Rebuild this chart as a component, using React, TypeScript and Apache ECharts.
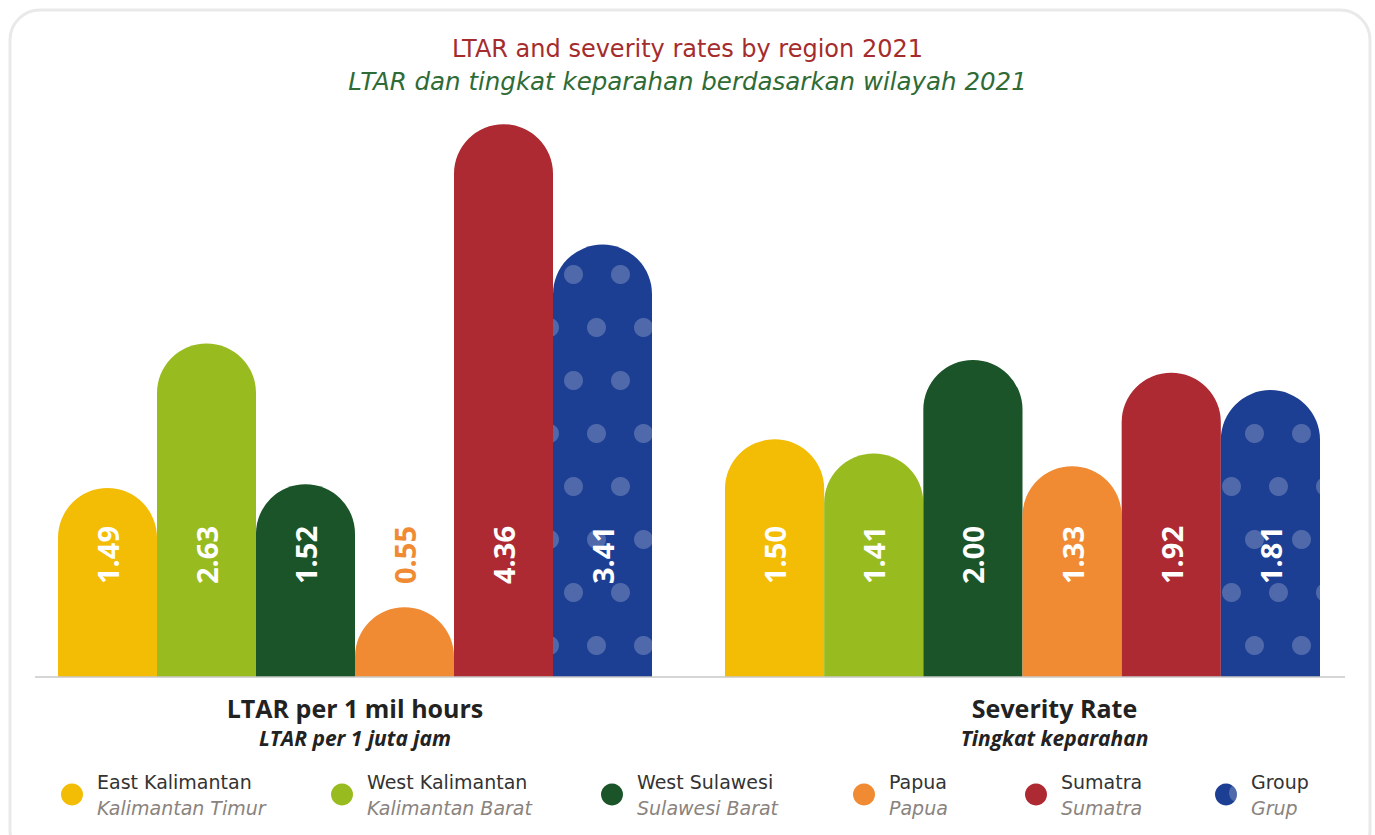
import React, { useEffect, useRef } from "react";
import * as echarts from "echarts";

const regions = ["East Kalimantan", "West Kalimantan", "West Sulawesi", "Papua", "Sumatra", "Group"];
const regionsId = ["Kalimantan Timur", "Kalimantan Barat", "Sulawesi Barat", "Papua", "Sumatra", "Grup"];
const colors = ["#F3BC05", "#98BB1F", "#1A5428", "#F08A33", "#AD2A32", "#1D3F93"];
const ltarValues = [1.49, 2.63, 1.52, 0.55, 4.36, 3.41];
const severityValues = [1.5, 1.41, 2.0, 1.33, 1.92, 1.81];
const legendCenters = [73, 343, 613, 865, 1037, 1227];

const FONT = "'Open Sans', 'Noto Sans', sans-serif";
const WIDE = "'DejaVu Sans', 'Open Sans', sans-serif";

export default function App() {
  const ref = useRef<HTMLDivElement>(null);
  useEffect(() => {
    if (!ref.current) return;
    const chart = echarts.init(ref.current, null, { renderer: "svg" });

    const decal = {
      symbol: "circle",
      symbolSize: 1,
      color: "rgba(255,255,255,0.22)",
      dashArrayX: [[19, 28], [0, 23, 19, 5]],
      dashArrayY: [19, 34],
      rotation: 0,
    };

    const makeSeries = (values: number[], gridIdx: number) =>
      regions.map((name, i) => ({
        name,
        type: "bar",
        xAxisIndex: gridIdx,
        yAxisIndex: gridIdx,
        barWidth: "100%",
        barGap: "-100%",
        data: values.map((v, j) => (j === i ? v : "-")),
        itemStyle: {
          color: colors[i],
          borderRadius: [50, 50, 0, 0],
          decal: name === "Group" ? decal : undefined,
        },
        label: {
          show: true,
          position: "insideBottom",
          rotate: 90,
          align: "left",
          verticalAlign: "middle",
          distance: 93,
          fontSize: 29,
          fontWeight: "bold",
          fontFamily: FONT,
          color: name === "Papua" && gridIdx === 0 ? colors[3] : "#ffffff",
          formatter: (p: any) => Number(p.value).toFixed(2),
        },
      }));

    const axisName = (en: string, id: string) => `{a|${en}}\n{b|${id}}`;
    const nameRich = {
      a: { fontSize: 25, fontWeight: "bold", color: "#222", fontFamily: FONT, lineHeight: 34 },
      b: { fontSize: 21, fontWeight: "bold", fontStyle: "italic", color: "#222", fontFamily: FONT, lineHeight: 26 },
    };

    const xAxisBase = {
      type: "category",
      data: regions,
      axisLine: { show: false },
      axisTick: { show: false },
      axisLabel: { show: false },
      nameLocation: "middle",
      nameGap: 14,
    };

    const option: any = {
      animation: false,
      title: {
        text: "LTAR and severity rates by region 2021",
        subtext: "LTAR dan tingkat keparahan berdasarkan wilayah 2021",
        left: "center",
        top: 32,
        itemGap: 8,
        textStyle: { fontSize: 24, fontWeight: "normal", color: "#A52C2C", fontFamily: WIDE },
        subtextStyle: { fontSize: 24.5, fontStyle: "italic", color: "#2E6B35", fontFamily: WIDE },
      },
      grid: [
        { left: 58, width: 594, top: 43, bottom: 158 },
        { left: 725, width: 595, top: 43, bottom: 158 },
      ],
      xAxis: [
        {
          ...xAxisBase,
          gridIndex: 0,
          name: axisName("LTAR per 1 mil hours", "LTAR per 1 juta jam"),
          nameTextStyle: { rich: nameRich },
        },
        {
          ...xAxisBase,
          gridIndex: 1,
          name: axisName("Severity Rate", "Tingkat keparahan"),
          nameTextStyle: { rich: nameRich, padding: [0, 0, 0, 64] },
        },
      ],
      yAxis: [
        { type: "value", gridIndex: 0, min: 0, max: 5, show: false },
        { type: "value", gridIndex: 1, min: 0, max: 4, show: false },
      ],
      legend: regions.map((name, i) => ({
        data: [name],
        left: legendCenters[i] - 17,
        top: 767,
        icon: "circle",
        itemWidth: 40,
        itemHeight: 22,
        formatter: () => `{a|${regions[i]}}\n{b|${regionsId[i]}}`,
        textStyle: {
          rich: {
            a: { fontSize: 19, color: "#333", fontFamily: WIDE, lineHeight: 26 },
            b: { fontSize: 19, fontStyle: "italic", color: "#8A837E", fontFamily: WIDE, lineHeight: 26 },
          },
        },
      })),
      graphic: [
        {
          type: "rect",
          shape: { x: 10, y: 10, width: 1360, height: 850, r: 30 },
          style: { fill: "none", stroke: "#E9E9E9", lineWidth: 3 },
          z: -10,
        },
        {
          type: "line",
          shape: { x1: 35, y1: 677, x2: 1345, y2: 677 },
          style: { stroke: "#C9C9C9", lineWidth: 1.5 },
          z: 10,
        },
      ],
      series: [...makeSeries(ltarValues, 0), ...makeSeries(severityValues, 1)],
    };

    chart.setOption(option);
    return () => chart.dispose();
  }, []);

  return (
    <div
      ref={ref}
      style={{ position: "absolute", left: 0, top: 0, width: 1375, height: 835, background: "#fff" }}
    />
  );
}
